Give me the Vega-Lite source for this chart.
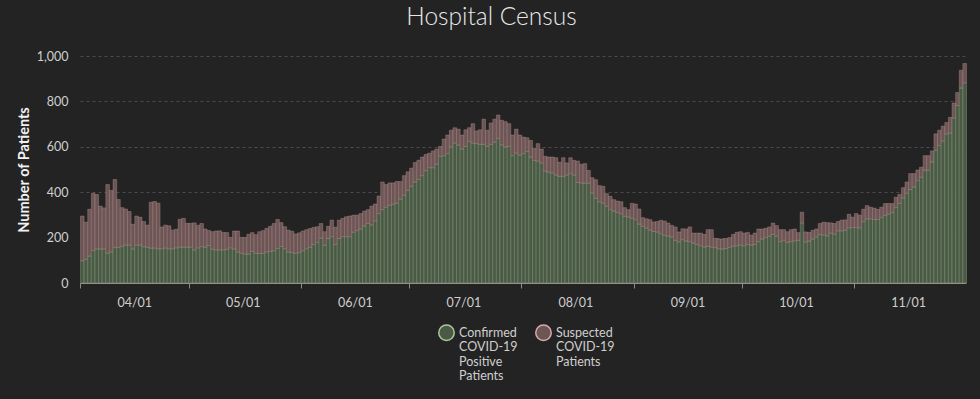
{
  "$schema": "https://vega.github.io/schema/vega-lite/v6.json",
  "width": 886,
  "height": 227,
  "autosize": {"type": "none"},
  "padding": {"left": 80, "top": 56, "right": 14, "bottom": 116},
  "background": "#232323",
  "title": {"text": "Hospital Census", "fontSize": 24.5, "font": "Lato", "fontWeight": 300, "color": "#e8e8e8", "anchor": "middle", "frame": "bounds", "offset": -4, "baseline": "bottom"},
  "data": {"values": [
    {"d":"2020-03-17","confirmed":98,"suspected":197},
    {"d":"2020-03-18","confirmed":104,"suspected":164},
    {"d":"2020-03-19","confirmed":119,"suspected":206},
    {"d":"2020-03-20","confirmed":143,"suspected":252},
    {"d":"2020-03-21","confirmed":150,"suspected":240},
    {"d":"2020-03-22","confirmed":150,"suspected":189},
    {"d":"2020-03-23","confirmed":150,"suspected":181},
    {"d":"2020-03-24","confirmed":132,"suspected":302},
    {"d":"2020-03-25","confirmed":137,"suspected":271},
    {"d":"2020-03-26","confirmed":156,"suspected":300},
    {"d":"2020-03-27","confirmed":156,"suspected":212},
    {"d":"2020-03-28","confirmed":162,"suspected":170},
    {"d":"2020-03-29","confirmed":167,"suspected":159},
    {"d":"2020-03-30","confirmed":167,"suspected":148},
    {"d":"2020-03-31","confirmed":150,"suspected":109},
    {"d":"2020-04-01","confirmed":167,"suspected":128},
    {"d":"2020-04-02","confirmed":167,"suspected":123},
    {"d":"2020-04-03","confirmed":160,"suspected":111},
    {"d":"2020-04-04","confirmed":157,"suspected":98},
    {"d":"2020-04-05","confirmed":154,"suspected":202},
    {"d":"2020-04-06","confirmed":154,"suspected":205},
    {"d":"2020-04-07","confirmed":151,"suspected":201},
    {"d":"2020-04-08","confirmed":151,"suspected":96},
    {"d":"2020-04-09","confirmed":154,"suspected":101},
    {"d":"2020-04-10","confirmed":151,"suspected":101},
    {"d":"2020-04-11","confirmed":151,"suspected":82},
    {"d":"2020-04-12","confirmed":155,"suspected":82},
    {"d":"2020-04-13","confirmed":158,"suspected":123},
    {"d":"2020-04-14","confirmed":158,"suspected":127},
    {"d":"2020-04-15","confirmed":158,"suspected":105},
    {"d":"2020-04-16","confirmed":158,"suspected":105},
    {"d":"2020-04-17","confirmed":146,"suspected":119},
    {"d":"2020-04-18","confirmed":155,"suspected":99},
    {"d":"2020-04-19","confirmed":160,"suspected":102},
    {"d":"2020-04-20","confirmed":158,"suspected":80},
    {"d":"2020-04-21","confirmed":165,"suspected":66},
    {"d":"2020-04-22","confirmed":149,"suspected":77},
    {"d":"2020-04-23","confirmed":146,"suspected":83},
    {"d":"2020-04-24","confirmed":146,"suspected":84},
    {"d":"2020-04-25","confirmed":146,"suspected":77},
    {"d":"2020-04-26","confirmed":148,"suspected":74},
    {"d":"2020-04-27","confirmed":155,"suspected":46},
    {"d":"2020-04-28","confirmed":150,"suspected":79},
    {"d":"2020-04-29","confirmed":137,"suspected":92},
    {"d":"2020-04-30","confirmed":131,"suspected":70},
    {"d":"2020-05-01","confirmed":128,"suspected":73},
    {"d":"2020-05-02","confirmed":128,"suspected":87},
    {"d":"2020-05-03","confirmed":139,"suspected":83},
    {"d":"2020-05-04","confirmed":131,"suspected":82},
    {"d":"2020-05-05","confirmed":130,"suspected":96},
    {"d":"2020-05-06","confirmed":131,"suspected":100},
    {"d":"2020-05-07","confirmed":137,"suspected":104},
    {"d":"2020-05-08","confirmed":139,"suspected":111},
    {"d":"2020-05-09","confirmed":142,"suspected":120},
    {"d":"2020-05-10","confirmed":152,"suspected":128},
    {"d":"2020-05-11","confirmed":161,"suspected":105},
    {"d":"2020-05-12","confirmed":151,"suspected":97},
    {"d":"2020-05-13","confirmed":137,"suspected":96},
    {"d":"2020-05-14","confirmed":134,"suspected":94},
    {"d":"2020-05-15","confirmed":131,"suspected":85},
    {"d":"2020-05-16","confirmed":134,"suspected":87},
    {"d":"2020-05-17","confirmed":142,"suspected":87},
    {"d":"2020-05-18","confirmed":151,"suspected":84},
    {"d":"2020-05-19","confirmed":157,"suspected":83},
    {"d":"2020-05-20","confirmed":169,"suspected":76},
    {"d":"2020-05-21","confirmed":178,"suspected":70},
    {"d":"2020-05-22","confirmed":198,"suspected":64},
    {"d":"2020-05-23","confirmed":166,"suspected":60},
    {"d":"2020-05-24","confirmed":196,"suspected":54},
    {"d":"2020-05-25","confirmed":204,"suspected":73},
    {"d":"2020-05-26","confirmed":170,"suspected":76},
    {"d":"2020-05-27","confirmed":196,"suspected":81},
    {"d":"2020-05-28","confirmed":204,"suspected":81},
    {"d":"2020-05-29","confirmed":204,"suspected":88},
    {"d":"2020-05-30","confirmed":204,"suspected":91},
    {"d":"2020-05-31","confirmed":224,"suspected":75},
    {"d":"2020-06-01","confirmed":231,"suspected":68},
    {"d":"2020-06-02","confirmed":238,"suspected":68},
    {"d":"2020-06-03","confirmed":251,"suspected":66},
    {"d":"2020-06-04","confirmed":262,"suspected":61},
    {"d":"2020-06-05","confirmed":256,"suspected":83},
    {"d":"2020-06-06","confirmed":274,"suspected":74},
    {"d":"2020-06-07","confirmed":306,"suspected":77},
    {"d":"2020-06-08","confirmed":323,"suspected":122},
    {"d":"2020-06-09","confirmed":334,"suspected":100},
    {"d":"2020-06-10","confirmed":342,"suspected":99},
    {"d":"2020-06-11","confirmed":347,"suspected":94},
    {"d":"2020-06-12","confirmed":352,"suspected":95},
    {"d":"2020-06-13","confirmed":370,"suspected":77},
    {"d":"2020-06-14","confirmed":387,"suspected":86},
    {"d":"2020-06-15","confirmed":408,"suspected":82},
    {"d":"2020-06-16","confirmed":426,"suspected":80},
    {"d":"2020-06-17","confirmed":445,"suspected":86},
    {"d":"2020-06-18","confirmed":456,"suspected":85},
    {"d":"2020-06-19","confirmed":473,"suspected":82},
    {"d":"2020-06-20","confirmed":495,"suspected":71},
    {"d":"2020-06-21","confirmed":508,"suspected":64},
    {"d":"2020-06-22","confirmed":508,"suspected":74},
    {"d":"2020-06-23","confirmed":523,"suspected":67},
    {"d":"2020-06-24","confirmed":558,"suspected":44},
    {"d":"2020-06-25","confirmed":561,"suspected":73},
    {"d":"2020-06-26","confirmed":570,"suspected":82},
    {"d":"2020-06-27","confirmed":599,"suspected":74},
    {"d":"2020-06-28","confirmed":617,"suspected":67},
    {"d":"2020-06-29","confirmed":608,"suspected":70},
    {"d":"2020-06-30","confirmed":590,"suspected":62},
    {"d":"2020-07-01","confirmed":602,"suspected":73},
    {"d":"2020-07-02","confirmed":623,"suspected":61},
    {"d":"2020-07-03","confirmed":617,"suspected":85},
    {"d":"2020-07-04","confirmed":614,"suspected":56},
    {"d":"2020-07-05","confirmed":611,"suspected":64},
    {"d":"2020-07-06","confirmed":611,"suspected":111},
    {"d":"2020-07-07","confirmed":602,"suspected":71},
    {"d":"2020-07-08","confirmed":611,"suspected":94},
    {"d":"2020-07-09","confirmed":620,"suspected":102},
    {"d":"2020-07-10","confirmed":637,"suspected":103},
    {"d":"2020-07-11","confirmed":608,"suspected":109},
    {"d":"2020-07-12","confirmed":599,"suspected":112},
    {"d":"2020-07-13","confirmed":602,"suspected":100},
    {"d":"2020-07-14","confirmed":561,"suspected":91},
    {"d":"2020-07-15","confirmed":573,"suspected":105},
    {"d":"2020-07-16","confirmed":564,"suspected":88},
    {"d":"2020-07-17","confirmed":570,"suspected":73},
    {"d":"2020-07-18","confirmed":579,"suspected":61},
    {"d":"2020-07-19","confirmed":555,"suspected":73},
    {"d":"2020-07-20","confirmed":540,"suspected":53},
    {"d":"2020-07-21","confirmed":537,"suspected":77},
    {"d":"2020-07-22","confirmed":529,"suspected":61},
    {"d":"2020-07-23","confirmed":493,"suspected":65},
    {"d":"2020-07-24","confirmed":488,"suspected":67},
    {"d":"2020-07-25","confirmed":485,"suspected":70},
    {"d":"2020-07-26","confirmed":476,"suspected":76},
    {"d":"2020-07-27","confirmed":470,"suspected":62},
    {"d":"2020-07-28","confirmed":470,"suspected":82},
    {"d":"2020-07-29","confirmed":476,"suspected":53},
    {"d":"2020-07-30","confirmed":482,"suspected":70},
    {"d":"2020-07-31","confirmed":476,"suspected":64},
    {"d":"2020-08-01","confirmed":443,"suspected":94},
    {"d":"2020-08-02","confirmed":440,"suspected":83},
    {"d":"2020-08-03","confirmed":440,"suspected":86},
    {"d":"2020-08-04","confirmed":440,"suspected":56},
    {"d":"2020-08-05","confirmed":396,"suspected":68},
    {"d":"2020-08-06","confirmed":373,"suspected":82},
    {"d":"2020-08-07","confirmed":358,"suspected":71},
    {"d":"2020-08-08","confirmed":352,"suspected":74},
    {"d":"2020-08-09","confirmed":338,"suspected":56},
    {"d":"2020-08-10","confirmed":323,"suspected":59},
    {"d":"2020-08-11","confirmed":317,"suspected":50},
    {"d":"2020-08-12","confirmed":311,"suspected":50},
    {"d":"2020-08-13","confirmed":305,"suspected":53},
    {"d":"2020-08-14","confirmed":294,"suspected":38},
    {"d":"2020-08-15","confirmed":291,"suspected":32},
    {"d":"2020-08-16","confirmed":285,"suspected":66},
    {"d":"2020-08-17","confirmed":279,"suspected":69},
    {"d":"2020-08-18","confirmed":260,"suspected":66},
    {"d":"2020-08-19","confirmed":250,"suspected":38},
    {"d":"2020-08-20","confirmed":242,"suspected":41},
    {"d":"2020-08-21","confirmed":233,"suspected":46},
    {"d":"2020-08-22","confirmed":227,"suspected":42},
    {"d":"2020-08-23","confirmed":225,"suspected":46},
    {"d":"2020-08-24","confirmed":217,"suspected":59},
    {"d":"2020-08-25","confirmed":210,"suspected":63},
    {"d":"2020-08-26","confirmed":206,"suspected":58},
    {"d":"2020-08-27","confirmed":203,"suspected":51},
    {"d":"2020-08-28","confirmed":188,"suspected":59},
    {"d":"2020-08-29","confirmed":181,"suspected":44},
    {"d":"2020-08-30","confirmed":191,"suspected":48},
    {"d":"2020-08-31","confirmed":185,"suspected":53},
    {"d":"2020-09-01","confirmed":182,"suspected":65},
    {"d":"2020-09-02","confirmed":176,"suspected":44},
    {"d":"2020-09-03","confirmed":170,"suspected":50},
    {"d":"2020-09-04","confirmed":164,"suspected":56},
    {"d":"2020-09-05","confirmed":159,"suspected":55},
    {"d":"2020-09-06","confirmed":162,"suspected":73},
    {"d":"2020-09-07","confirmed":159,"suspected":76},
    {"d":"2020-09-08","confirmed":156,"suspected":41},
    {"d":"2020-09-09","confirmed":151,"suspected":43},
    {"d":"2020-09-10","confirmed":150,"suspected":44},
    {"d":"2020-09-11","confirmed":152,"suspected":44},
    {"d":"2020-09-12","confirmed":156,"suspected":44},
    {"d":"2020-09-13","confirmed":162,"suspected":52},
    {"d":"2020-09-14","confirmed":164,"suspected":59},
    {"d":"2020-09-15","confirmed":167,"suspected":59},
    {"d":"2020-09-16","confirmed":164,"suspected":56},
    {"d":"2020-09-17","confirmed":170,"suspected":53},
    {"d":"2020-09-18","confirmed":167,"suspected":44},
    {"d":"2020-09-19","confirmed":170,"suspected":50},
    {"d":"2020-09-20","confirmed":182,"suspected":56},
    {"d":"2020-09-21","confirmed":194,"suspected":44},
    {"d":"2020-09-22","confirmed":200,"suspected":41},
    {"d":"2020-09-23","confirmed":206,"suspected":41},
    {"d":"2020-09-24","confirmed":214,"suspected":50},
    {"d":"2020-09-25","confirmed":206,"suspected":47},
    {"d":"2020-09-26","confirmed":182,"suspected":53},
    {"d":"2020-09-27","confirmed":188,"suspected":47},
    {"d":"2020-09-28","confirmed":179,"suspected":47},
    {"d":"2020-09-29","confirmed":182,"suspected":53},
    {"d":"2020-09-30","confirmed":186,"suspected":52},
    {"d":"2020-10-01","confirmed":188,"suspected":34},
    {"d":"2020-10-02","confirmed":265,"suspected":47},
    {"d":"2020-10-03","confirmed":181,"suspected":44},
    {"d":"2020-10-04","confirmed":185,"suspected":38},
    {"d":"2020-10-05","confirmed":194,"suspected":38},
    {"d":"2020-10-06","confirmed":203,"suspected":35},
    {"d":"2020-10-07","confirmed":213,"suspected":49},
    {"d":"2020-10-08","confirmed":212,"suspected":56},
    {"d":"2020-10-09","confirmed":208,"suspected":58},
    {"d":"2020-10-10","confirmed":220,"suspected":45},
    {"d":"2020-10-11","confirmed":215,"suspected":47},
    {"d":"2020-10-12","confirmed":230,"suspected":41},
    {"d":"2020-10-13","confirmed":230,"suspected":47},
    {"d":"2020-10-14","confirmed":232,"suspected":46},
    {"d":"2020-10-15","confirmed":243,"suspected":60},
    {"d":"2020-10-16","confirmed":244,"suspected":46},
    {"d":"2020-10-17","confirmed":244,"suspected":62},
    {"d":"2020-10-18","confirmed":243,"suspected":56},
    {"d":"2020-10-19","confirmed":270,"suspected":55},
    {"d":"2020-10-20","confirmed":282,"suspected":59},
    {"d":"2020-10-21","confirmed":283,"suspected":51},
    {"d":"2020-10-22","confirmed":280,"suspected":50},
    {"d":"2020-10-23","confirmed":280,"suspected":44},
    {"d":"2020-10-24","confirmed":288,"suspected":46},
    {"d":"2020-10-25","confirmed":297,"suspected":53},
    {"d":"2020-10-26","confirmed":304,"suspected":46},
    {"d":"2020-10-27","confirmed":310,"suspected":40},
    {"d":"2020-10-28","confirmed":332,"suspected":46},
    {"d":"2020-10-29","confirmed":350,"suspected":40},
    {"d":"2020-10-30","confirmed":374,"suspected":46},
    {"d":"2020-10-31","confirmed":395,"suspected":50},
    {"d":"2020-11-01","confirmed":412,"suspected":70},
    {"d":"2020-11-02","confirmed":423,"suspected":59},
    {"d":"2020-11-03","confirmed":451,"suspected":47},
    {"d":"2020-11-04","confirmed":466,"suspected":44},
    {"d":"2020-11-05","confirmed":497,"suspected":64},
    {"d":"2020-11-06","confirmed":497,"suspected":64},
    {"d":"2020-11-07","confirmed":533,"suspected":49},
    {"d":"2020-11-08","confirmed":585,"suspected":72},
    {"d":"2020-11-09","confirmed":605,"suspected":68},
    {"d":"2020-11-10","confirmed":625,"suspected":66},
    {"d":"2020-11-11","confirmed":657,"suspected":50},
    {"d":"2020-11-12","confirmed":660,"suspected":70},
    {"d":"2020-11-13","confirmed":727,"suspected":66},
    {"d":"2020-11-14","confirmed":782,"suspected":57},
    {"d":"2020-11-15","confirmed":859,"suspected":78},
    {"d":"2020-11-16","confirmed":882,"suspected":85}
  ]},
  "transform": [{"fold": ["confirmed", "suspected"], "as": ["type", "patients"]}],
  "mark": {"type": "bar", "binSpacing": 0, "strokeWidth": 0.5, "strokeOpacity": 0.6},
  "encoding": {
    "x": {
      "field": "d", "timeUnit": "utcyearmonthdate", "type": "temporal",
      "scale": {"nice": false, "padding": 0},
      "axis": {
        "title": null, "format": "%m/%d",
        "values": [
          {"year": 2020, "month": 4, "date": 1, "utc": true},
          {"year": 2020, "month": 5, "date": 1, "utc": true},
          {"year": 2020, "month": 6, "date": 1, "utc": true},
          {"year": 2020, "month": 7, "date": 1, "utc": true},
          {"year": 2020, "month": 8, "date": 1, "utc": true},
          {"year": 2020, "month": 9, "date": 1, "utc": true},
          {"year": 2020, "month": 10, "date": 1, "utc": true},
          {"year": 2020, "month": 11, "date": 1, "utc": true}
        ],
        "labelColor": "#cfcfcf", "labelFont": "Lato", "labelFontSize": 12.5, "labelPadding": 8,
        "tickColor": "#8a8a8a", "tickSize": 5, "tickOffset": -54, "labelOffset": 54,
        "domainColor": "#8a8a8a", "grid": false, "labelFlush": false
      }
    },
    "y": {
      "field": "patients", "type": "quantitative", "stack": "zero",
      "scale": {"domain": [0, 1000], "nice": false},
      "axis": {
        "title": "Number of Patients", "titleColor": "#f2f2f2", "titleFont": "Lato", "titleFontSize": 14.5, "titleFontWeight": "bold", "titlePadding": 5,
        "labelColor": "#cfcfcf", "labelFont": "Lato", "labelFontSize": 12.5, "format": ",d",
        "values": [0, 200, 400, 600, 800, 1000], "ticks": false, "labelPadding": 12, "domain": false,
        "gridColor": "#4a4a4a", "gridDash": [3, 3], "gridWidth": 1
      }
    },
    "fill": {
      "field": "type", "type": "nominal",
      "scale": {"domain": ["confirmed", "suspected"], "range": ["#4b5a46", "#6b5555"]},
      "legend": {
        "title": null, "orient": "none", "legendX": 358, "legendY": 268, "padding": 0, "direction": "horizontal", "symbolType": "circle", "symbolSize": 240, "symbolStrokeWidth": 1.5,
        "labelColor": "#cfcfcf", "labelFont": "Lato", "labelFontSize": 12.5, "labelBaseline": "top", "columnPadding": 14, "labelOffset": 4,
        "labelExpr": "datum.value == 'confirmed' ? ['Confirmed', 'COVID-19', 'Positive', 'Patients'] : ['Suspected', 'COVID-19', 'Patients', '']",
        "encoding": {"labels": {"dy": {"value": -6}}}
      }
    },
    "stroke": {
      "field": "type", "type": "nominal",
      "scale": {"domain": ["confirmed", "suspected"], "range": ["#a9c79a", "#dba7a7"]},
      "legend": {
        "title": null, "orient": "none", "legendX": 358, "legendY": 268, "padding": 0, "direction": "horizontal", "symbolType": "circle", "symbolSize": 240, "symbolStrokeWidth": 1.5,
        "labelColor": "#cfcfcf", "labelFont": "Lato", "labelFontSize": 12.5, "labelBaseline": "top", "columnPadding": 14, "labelOffset": 4,
        "labelExpr": "datum.value == 'confirmed' ? ['Confirmed', 'COVID-19', 'Positive', 'Patients'] : ['Suspected', 'COVID-19', 'Patients', '']",
        "encoding": {"labels": {"dy": {"value": -6}}}
      }
    },
    "order": {"field": "type", "sort": "ascending"}
  },
  "config": {"view": {"stroke": null}}
}
